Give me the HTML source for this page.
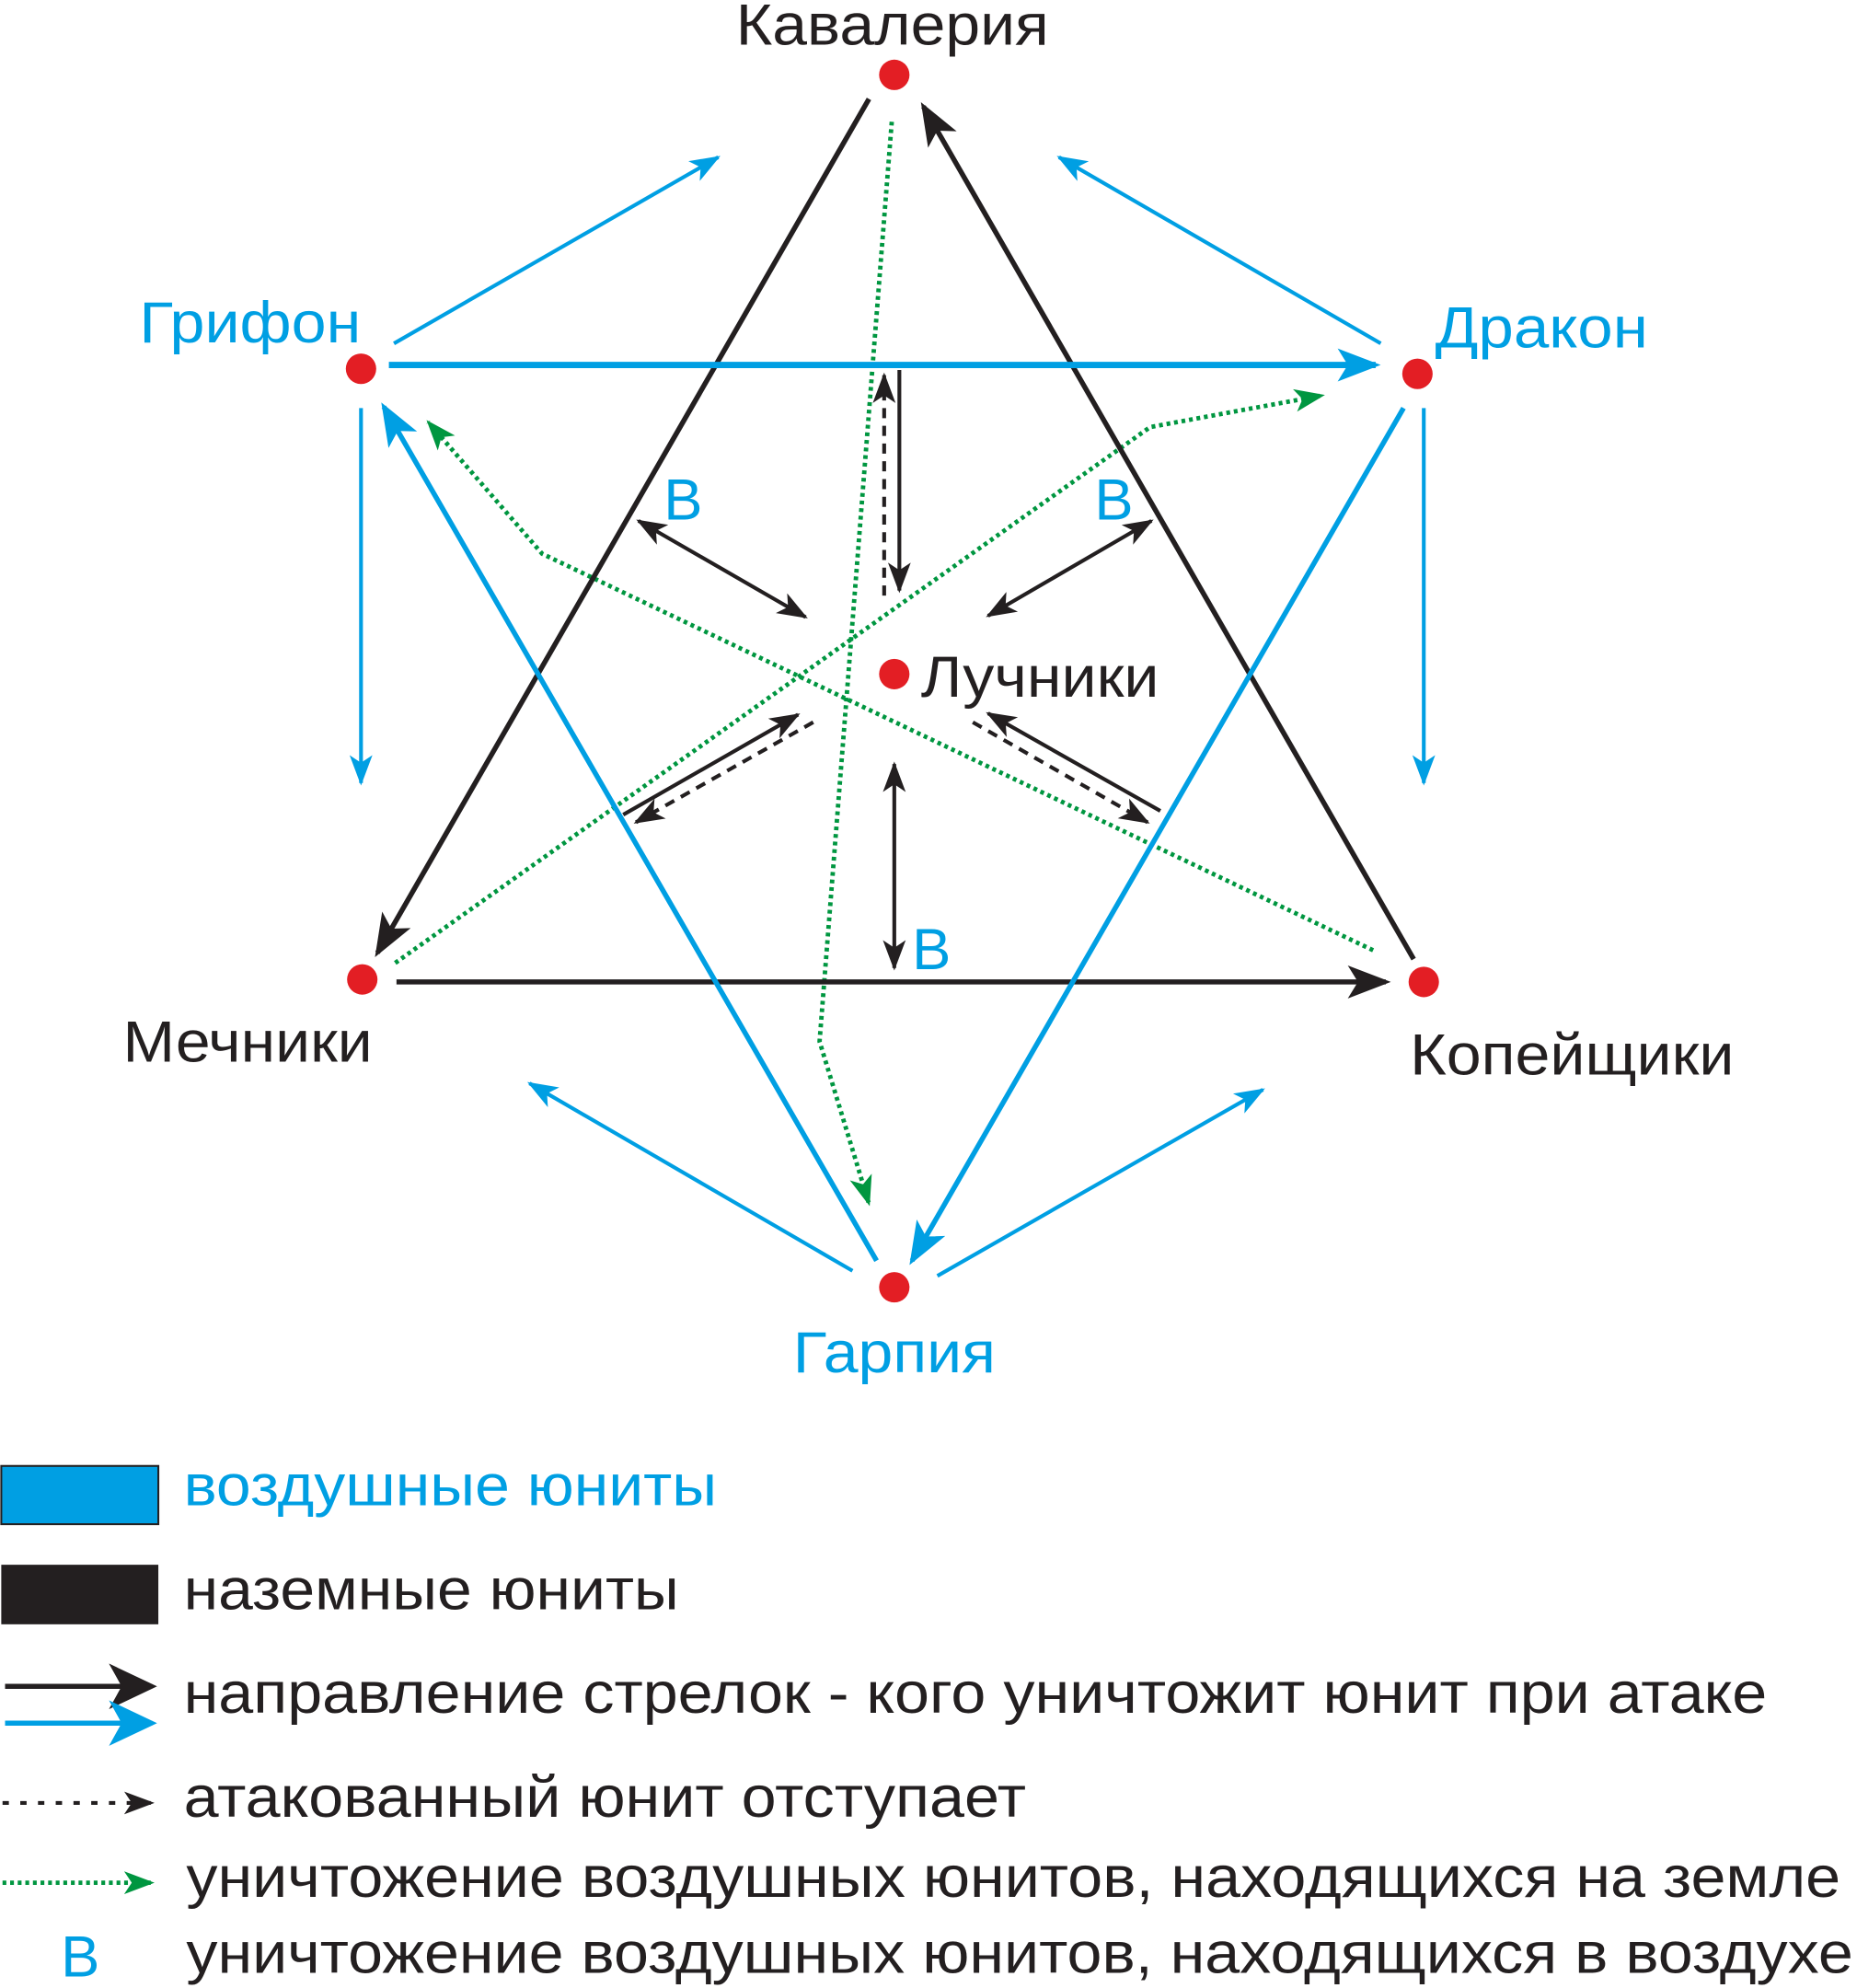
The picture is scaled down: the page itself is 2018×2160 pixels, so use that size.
<!DOCTYPE html>
<html><head><meta charset="utf-8"><style>
html,body{margin:0;padding:0;background:#fff;}
svg{display:block}
text{font-family:"Liberation Sans",sans-serif;font-size:46px;}
</style></head><body>
<svg width="2018" height="2160" viewBox="0 0 1466 1569" xmlns="http://www.w3.org/2000/svg">
<defs>
<marker id="ak" markerUnits="userSpaceOnUse" markerWidth="40" markerHeight="40" refX="30" refY="15" orient="auto"><path d="M0,2 L34,15 L0,28 L8,15 Z" fill="#231f20"/></marker>
<marker id="akL" markerUnits="userSpaceOnUse" markerWidth="50" markerHeight="50" refX="34" refY="20" orient="auto"><path d="M0,2 L38,20 L0,38 L10,20 Z" fill="#231f20"/></marker>
<marker id="abL" markerUnits="userSpaceOnUse" markerWidth="50" markerHeight="50" refX="34" refY="20" orient="auto"><path d="M0,2 L38,20 L0,38 L10,20 Z" fill="#009fe3"/></marker>
<marker id="aks" markerUnits="userSpaceOnUse" markerWidth="30" markerHeight="30" refX="22" refY="10" orient="auto"><path d="M0,1 L24,10 L0,19 L6,10 Z" fill="#231f20"/></marker>
<marker id="aksr" markerUnits="userSpaceOnUse" markerWidth="30" markerHeight="30" refX="2" refY="10" orient="auto"><path d="M24,1 L0,10 L24,19 L18,10 Z" fill="#231f20"/></marker>
<marker id="ab" markerUnits="userSpaceOnUse" markerWidth="40" markerHeight="40" refX="30" refY="15" orient="auto"><path d="M0,2 L34,15 L0,28 L8,15 Z" fill="#009fe3"/></marker>
<marker id="abs" markerUnits="userSpaceOnUse" markerWidth="30" markerHeight="30" refX="22" refY="10" orient="auto"><path d="M0,1 L24,10 L0,19 L6,10 Z" fill="#009fe3"/></marker>
<marker id="ag" markerUnits="userSpaceOnUse" markerWidth="30" markerHeight="30" refX="22" refY="10" orient="auto"><path d="M0,1 L24,10 L0,19 L6,10 Z" fill="#009640"/></marker>
</defs>

<g fill="none" stroke="#009640" stroke-width="3.5" stroke-dasharray="3 3">
<polyline points="704,96 647,822 686,950" marker-end="url(#ag)"/>
<polyline points="1084,750 428,437 338,333" marker-end="url(#ag)"/>
<polyline points="312,760 908,337 1044,312" marker-end="url(#ag)"/>
</g>

<g stroke="#231f20" stroke-width="4" fill="none">
<line x1="686" y1="78" x2="298" y2="752" marker-end="url(#ak)"/>
<line x1="1116" y1="757" x2="729" y2="84" marker-end="url(#ak)"/>
<line x1="313" y1="775" x2="1094" y2="775" marker-end="url(#ak)"/>
</g>

<g stroke="#009fe3" fill="none">
<line x1="307" y1="288" x2="1086" y2="288" stroke-width="5" marker-end="url(#ab)"/>
<line x1="1108" y1="322" x2="720" y2="995" stroke-width="4" marker-end="url(#ab)"/>
<line x1="692" y1="995" x2="303" y2="321" stroke-width="4" marker-end="url(#ab)"/>
<g stroke-width="3">
<line x1="311" y1="271" x2="567" y2="124" marker-end="url(#abs)"/>
<line x1="1090" y1="271" x2="836" y2="124" marker-end="url(#abs)"/>
<line x1="285" y1="322" x2="285" y2="618" marker-end="url(#abs)"/>
<line x1="1124" y1="322" x2="1124" y2="618" marker-end="url(#abs)"/>
<line x1="673" y1="1003" x2="418" y2="855" marker-end="url(#abs)"/>
<line x1="740" y1="1007" x2="997" y2="860" marker-end="url(#abs)"/>
</g>
</g>

<g stroke="#231f20" stroke-width="3" fill="none">
<line x1="710" y1="292" x2="710" y2="466" marker-end="url(#aks)"/>
<line x1="698" y1="470" x2="698" y2="296" stroke-dasharray="8 6" marker-end="url(#aks)"/>
<line x1="504" y1="411" x2="636" y2="487" marker-start="url(#aksr)" marker-end="url(#aks)"/>
<line x1="909" y1="411" x2="780" y2="486" marker-start="url(#aksr)" marker-end="url(#aks)"/>
<line x1="706" y1="603" x2="706" y2="764" marker-start="url(#aksr)" marker-end="url(#aks)"/>
<line x1="492" y1="643" x2="630" y2="564" marker-end="url(#aks)"/>
<line x1="642" y1="570" x2="502" y2="649" stroke-dasharray="8 6" marker-end="url(#aks)"/>
<line x1="916" y1="640" x2="780" y2="563" marker-end="url(#aks)"/>
<line x1="768" y1="570" x2="906" y2="649" stroke-dasharray="8 6" marker-end="url(#aks)"/>
</g>

<g fill="#e31e24">
<circle cx="706" cy="59" r="12"/><circle cx="285" cy="291" r="12"/><circle cx="1119" cy="295" r="12"/>
<circle cx="706" cy="532" r="12"/><circle cx="286" cy="773" r="12"/><circle cx="1124" cy="775" r="12"/>
<circle cx="706" cy="1016" r="12"/>
</g>

<text x="581" y="35" fill="#231f20" textLength="247" lengthAdjust="spacingAndGlyphs">Кавалерия</text>
<text x="110" y="270" fill="#009fe3" textLength="175" lengthAdjust="spacingAndGlyphs">Грифон</text>
<text x="1133" y="274" fill="#009fe3" textLength="168" lengthAdjust="spacingAndGlyphs">Дракон</text>
<text x="727" y="550" fill="#231f20" textLength="188" lengthAdjust="spacingAndGlyphs">Лучники</text>
<text x="97" y="838" fill="#231f20" textLength="197" lengthAdjust="spacingAndGlyphs">Мечники</text>
<text x="1113" y="848" fill="#231f20" textLength="256" lengthAdjust="spacingAndGlyphs">Копейщики</text>
<text x="626" y="1083" fill="#009fe3" textLength="160" lengthAdjust="spacingAndGlyphs">Гарпия</text>
<text x="524" y="410" fill="#009fe3">В</text>
<text x="864" y="410" fill="#009fe3">В</text>
<text x="720" y="765" fill="#009fe3">В</text>

<rect x="1" y="1157" width="124" height="46" fill="#009fe3" stroke="#231f20" stroke-width="1.5"/>
<rect x="1" y="1235" width="124" height="47" fill="#231f20"/>
<text x="145" y="1188" fill="#009fe3" textLength="421" lengthAdjust="spacingAndGlyphs">воздушные юниты</text>
<text x="145" y="1270" fill="#231f20" textLength="391" lengthAdjust="spacingAndGlyphs">наземные юниты</text>
<line x1="4" y1="1331" x2="120" y2="1331" stroke="#231f20" stroke-width="4" marker-end="url(#akL)"/>
<line x1="4" y1="1360" x2="120" y2="1360" stroke="#009fe3" stroke-width="4" marker-end="url(#abL)"/>
<text x="145" y="1352" fill="#231f20" textLength="1250" lengthAdjust="spacingAndGlyphs">направление стрелок - кого уничтожит юнит при атаке</text>
<line x1="2" y1="1423" x2="120" y2="1423" stroke="#231f20" stroke-width="3" stroke-dasharray="5 9" marker-end="url(#aks)"/>
<text x="145" y="1434" fill="#231f20" textLength="665" lengthAdjust="spacingAndGlyphs">атакованный юнит отступает</text>
<line x1="2" y1="1486" x2="120" y2="1486" stroke="#009640" stroke-width="3.5" stroke-dasharray="3 3" marker-end="url(#ag)"/>
<text x="147" y="1497" fill="#231f20" textLength="1306" lengthAdjust="spacingAndGlyphs">уничтожение воздушных юнитов, находящихся на земле</text>
<text x="48" y="1560" fill="#009fe3">В</text>
<text x="147" y="1557" fill="#231f20" textLength="1316" lengthAdjust="spacingAndGlyphs">уничтожение воздушных юнитов, находящихся в воздухе</text>
</svg>
</body></html>
